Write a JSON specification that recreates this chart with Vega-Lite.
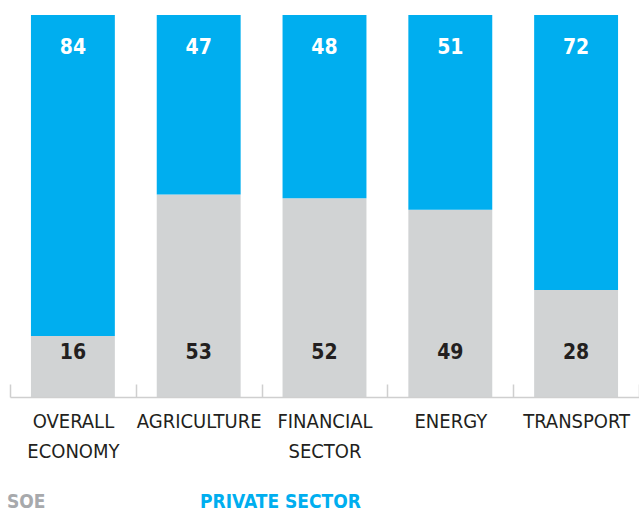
{
  "$schema": "https://vega.github.io/schema/vega-lite/v6.json",
  "width": 629,
  "height": 382,
  "autosize": {"type": "none"},
  "padding": {"left": 10, "top": 15, "right": 0, "bottom": 114},
  "config": {
    "view": {"stroke": null},
    "font": "DejaVu Sans Condensed, Roboto"
  },
  "data": {
    "values": [
      {"sector": "OVERALL ECONOMY", "owner": "SOE", "value": 16},
      {"sector": "OVERALL ECONOMY", "owner": "PRIVATE SECTOR", "value": 84},
      {"sector": "AGRICULTURE", "owner": "SOE", "value": 53},
      {"sector": "AGRICULTURE", "owner": "PRIVATE SECTOR", "value": 47},
      {"sector": "FINANCIAL SECTOR", "owner": "SOE", "value": 52},
      {"sector": "FINANCIAL SECTOR", "owner": "PRIVATE SECTOR", "value": 48},
      {"sector": "ENERGY", "owner": "SOE", "value": 49},
      {"sector": "ENERGY", "owner": "PRIVATE SECTOR", "value": 51},
      {"sector": "TRANSPORT", "owner": "SOE", "value": 28},
      {"sector": "TRANSPORT", "owner": "PRIVATE SECTOR", "value": 72}
    ]
  },
  "encoding": {
    "x": {
      "field": "sector",
      "type": "nominal",
      "sort": null,
      "scale": {"paddingInner": 0, "paddingOuter": 0},
      "axis": {
        "title": null,
        "zindex": 1,
        "domainColor": "#cfcfcf",
        "domainWidth": 1.5,
        "tickColor": "#cfcfcf",
        "tickWidth": 1.5,
        "tickSize": -13,
        "tickBand": "extent",
        "labelAngle": 0,
        "labelFont": "DejaVu Sans Condensed, Roboto",
        "labelFontSize": 20,
        "labelColor": "#231F20",
        "labelPadding": 27,
        "labelLineHeight": 30,
        "labelBaseline": "top",
        "labelExpr": "split(datum.label, ' ')"
      }
    }
  },
  "layer": [
    {
      "mark": {"type": "bar", "width": {"band": 0.667}},
      "encoding": {
        "y": {"field": "value", "type": "quantitative", "stack": "zero", "scale": {"domain": [0, 100]}, "axis": null},
        "color": {
          "field": "owner",
          "type": "nominal",
          "sort": ["SOE", "PRIVATE SECTOR"],
          "scale": {"domain": ["SOE", "PRIVATE SECTOR"], "range": ["#D1D3D4", "#00AEEF"]},
          "legend": {
            "title": null,
            "orient": "none",
            "direction": "horizontal",
            "legendX": -22,
            "legendY": 477,
            "padding": 0,
            "symbolSize": 0,
            "symbolOpacity": 0,
            "symbolStrokeWidth": 0,
            "labelOffset": 0,
            "labelLimit": 400,
            "columnPadding": 135,
            "labelFont": "DejaVu Sans Condensed, Roboto",
            "labelFontSize": 19,
            "labelFontWeight": "bold",
            "labelColor": {"expr": "datum.value == 'SOE' ? '#A7A9AC' : '#00AEEF'"}
          }
        }
      }
    },
    {
      "transform": [{"filter": "datum.owner == 'PRIVATE SECTOR'"}],
      "mark": {"type": "text", "font": "DejaVu Sans Condensed, Roboto", "fontSize": 21, "fontWeight": "bold", "color": "#FFFFFF", "baseline": "middle", "dy": 33},
      "encoding": {
        "y": {"datum": 100, "type": "quantitative"},
        "text": {"field": "value", "type": "quantitative"}
      }
    },
    {
      "transform": [{"filter": "datum.owner == 'SOE'"}],
      "mark": {"type": "text", "font": "DejaVu Sans Condensed, Roboto", "fontSize": 21, "fontWeight": "bold", "color": "#231F20", "baseline": "middle", "dy": -44},
      "encoding": {
        "y": {"datum": 0, "type": "quantitative"},
        "text": {"field": "value", "type": "quantitative"}
      }
    }
  ]
}
